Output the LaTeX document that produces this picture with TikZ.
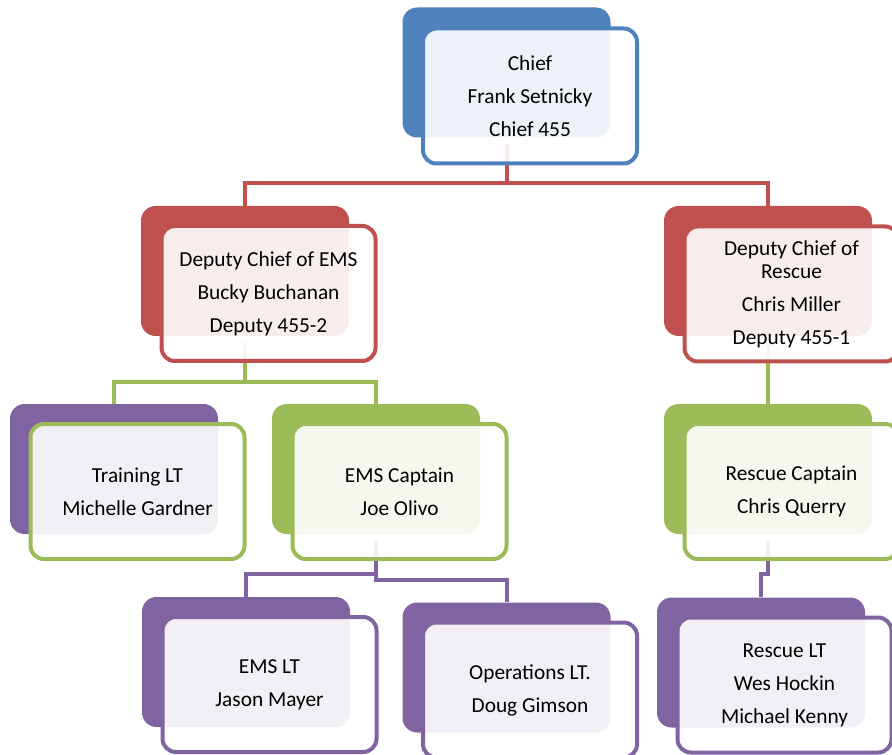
\documentclass[tikz,border=0pt]{standalone}
\usepackage{fontspec}
\setmainfont{Carlito}
\definecolor{orgblue}{HTML}{4F81BD}
\definecolor{orgred}{HTML}{C0504D}
\definecolor{orggreen}{HTML}{9BBB59}
\definecolor{orgpurple}{HTML}{8064A2}
\begin{document}
\begin{tikzpicture}[x=0.75pt,y=-0.75pt,
  backbox/.style={fill=#1,rounded corners=11pt,minimum width=156pt,minimum height=97.5pt,inner sep=0pt},
  frontbox/.style={draw=#1,line width=3pt,rounded corners=10pt,fill=white,fill opacity=0.9,text opacity=1,
    minimum width=160.5pt,minimum height=101.25pt,inner sep=0pt,align=center,
    font=\fontsize{16}{17.25}\selectfont},
  link/.style={draw=#1,line width=3pt}]
  \useasboundingbox (0,0) rectangle (892,755);

  % back plates
  \node[backbox=orgblue] (chiefB) at (506.5,72.5) {};
  \node[backbox=orgred] (emsdepB) at (245,271) {};
  \node[backbox=orgred] (rescdepB) at (768,271) {};
  \node[backbox=orgpurple] (trainB) at (114,469) {};
  \node[backbox=orggreen] (emscapB) at (376,469) {};
  \node[backbox=orggreen] (resccapB) at (768,469) {};
  \node[backbox=orgpurple] (emsltB) at (246,662) {};
  \node[backbox=orgpurple] (opsltB) at (506.5,667.5) {};
  \node[backbox=orgpurple] (rescltB) at (761,662.5) {};

  % connectors
  \draw[link=orgred] ([yshift=-4.5pt]chiefB.south) -- (chiefB.south |- 0,183) -| (emsdepB.north);
  \draw[link=orgred] ([yshift=-4.5pt]chiefB.south) -- (chiefB.south |- 0,183) -| (rescdepB.north);
  \draw[link=orggreen] ([yshift=-4.5pt]emsdepB.south) -- (emsdepB.south |- 0,382) -| (trainB.north);
  \draw[link=orggreen] ([yshift=-4.5pt]emsdepB.south) -- (emsdepB.south |- 0,382) -| (emscapB.north);
  \draw[link=orggreen] ([yshift=-4.5pt]rescdepB.south) -- (resccapB.north);
  \draw[link=orgpurple] ([yshift=-4.5pt]emscapB.south) -- (emscapB.south |- 0,574) -| (emsltB.north);
  \draw[link=orgpurple] ([yshift=-4.5pt]emscapB.south) -- (emscapB.south |- 0,580) -| (opsltB.north);
  \draw[link=orgpurple] ([yshift=-4.5pt]resccapB.south) -- (resccapB.south |- 0,574) -| (rescltB.north);

  % front cards
  \node[frontbox=orgblue] (chief) at ([shift={(23.5,23.5)}]chiefB) {Chief\\[7.5pt]Frank Setnicky\\[7.5pt]Chief 455};
  \node[frontbox=orgred] (emsdep) at ([shift={(23.5,22.5)}]emsdepB) {Deputy Chief of EMS\\[7.5pt]Bucky Buchanan\\[7.5pt]Deputy 455-2};
  \node[frontbox=orgred] (rescdep) at ([shift={(23.5,23)}]rescdepB) {Deputy Chief of\\Rescue\\[7.5pt]Chris Miller\\[7.5pt]Deputy 455-1};
  \node[frontbox=orggreen] (train) at ([shift={(23.5,22.5)}]trainB) {Training LT\\[7.5pt]Michelle Gardner};
  \node[frontbox=orggreen] (emscap) at ([shift={(23.5,22.5)}]emscapB) {EMS Captain\\[7.5pt]Joe Olivo};
  \node[frontbox=orggreen] (resccap) at ([shift={(23.5,22.5)}]resccapB) {Rescue Captain\\[7.5pt]Chris Querry};
  \node[frontbox=orgpurple] (emslt) at ([shift={(23.5,22.5)}]emsltB) {EMS LT\\[7.5pt]Jason Mayer};
  \node[frontbox=orgpurple] (opslt) at ([shift={(23.5,22.5)}]opsltB) {Operations LT.\\[7.5pt]Doug Gimson};
  \node[frontbox=orgpurple] (resclt) at ([shift={(23.5,22.5)}]rescltB) {Rescue LT\\[7.5pt]Wes Hockin\\[7.5pt]Michael Kenny};
\end{tikzpicture}
\end{document}
